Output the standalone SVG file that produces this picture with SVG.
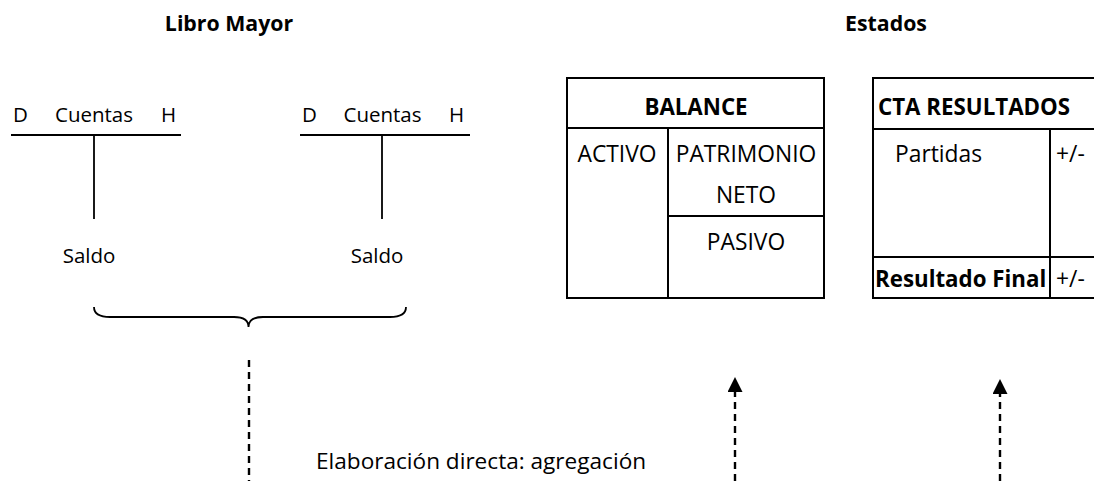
<svg xmlns="http://www.w3.org/2000/svg" width="1094" height="481" viewBox="0 0 1094 481">
<defs>
<style>
text{font-family:"Open Sans","Noto Sans","Liberation Sans",sans-serif;fill:#000}
.t{font-size:21.3px;font-weight:bold}
.c{font-size:20.5px}
.r{font-size:22.8px}
.b{font-size:22.3px;font-weight:bold}
.e{font-size:22.6px}
.ln{stroke:#000;stroke-width:1.8;fill:none}
.bx{stroke:#000;stroke-width:2;fill:none}
.dash{stroke:#000;stroke-width:2.4;stroke-dasharray:7,5;fill:none}
</style>
<marker id="ah" markerWidth="15" markerHeight="15" refX="0" refY="7.5" orient="auto" markerUnits="userSpaceOnUse" viewBox="0 0 15 15">
<path d="M0,0 L15,7.5 L0,15 Z" fill="#000"/>
</marker>
</defs>
<rect width="1094" height="481" fill="#fff"/>
<g id="titles">
<text class="t" x="229" y="31" text-anchor="middle">Libro Mayor</text>
<text class="t" x="886" y="31" text-anchor="middle">Estados</text>
</g>
<g id="cuenta1">
<text class="c" x="13" y="122">D</text>
<text class="c" x="94" y="122" text-anchor="middle">Cuentas</text>
<text class="c" x="161" y="122">H</text>
<line class="ln" x1="11" y1="135" x2="181" y2="135"/>
<line class="ln" x1="94" y1="135" x2="94" y2="219"/>
<text class="c" x="89" y="263" text-anchor="middle">Saldo</text>
</g>
<g id="cuenta2">
<text class="c" x="302" y="122">D</text>
<text class="c" x="382.5" y="122" text-anchor="middle">Cuentas</text>
<text class="c" x="449" y="122">H</text>
<line class="ln" x1="300" y1="135" x2="470" y2="135"/>
<line class="ln" x1="382" y1="135" x2="382" y2="219"/>
<text class="c" x="377" y="263" text-anchor="middle">Saldo</text>
</g>
<g id="llave">
<path class="ln" d="M94,307 Q94,317 110,317 L234,317 Q248.5,317 248.5,327 Q248.5,317 263,317 L390,317 Q406,317 406,307"/>
</g>
<g id="balance">
<rect class="bx" x="567" y="78" width="257" height="220"/>
<line class="bx" x1="567" y1="128" x2="824" y2="128"/>
<line class="bx" x1="668" y1="128" x2="668" y2="298"/>
<line class="bx" x1="668" y1="216" x2="824" y2="216"/>
<text class="b" x="696" y="115" text-anchor="middle">BALANCE</text>
<text class="r" x="617" y="162" text-anchor="middle">ACTIVO</text>
<text class="r" x="746" y="162" text-anchor="middle">PATRIMONIO</text>
<text class="r" x="746" y="203" text-anchor="middle">NETO</text>
<text class="r" x="746" y="250" text-anchor="middle">PASIVO</text>
</g>
<g id="resultados">
<rect class="bx" x="873" y="78" width="260" height="220"/>
<line class="bx" x1="873" y1="129" x2="1133" y2="129"/>
<line class="bx" x1="1050" y1="129" x2="1050" y2="298"/>
<line class="bx" x1="873" y1="257" x2="1133" y2="257"/>
<text class="b" x="878" y="115">CTA RESULTADOS</text>
<text class="r" x="895" y="162">Partidas</text>
<text class="r" x="1056" y="162">+/-</text>
<text class="b" x="875" y="287">Resultado Final</text>
<text class="r" x="1056" y="287">+/-</text>
</g>
<g id="connectors">
<line class="dash" x1="249" y1="360" x2="249" y2="481"/>
<line class="dash" x1="735" y1="481" x2="735" y2="392" marker-end="url(#ah)"/>
<line class="dash" x1="1000" y1="481" x2="1000" y2="394" marker-end="url(#ah)"/>
</g>
<text class="e" x="316" y="469">Elaboración directa: agregación</text>
</svg>
